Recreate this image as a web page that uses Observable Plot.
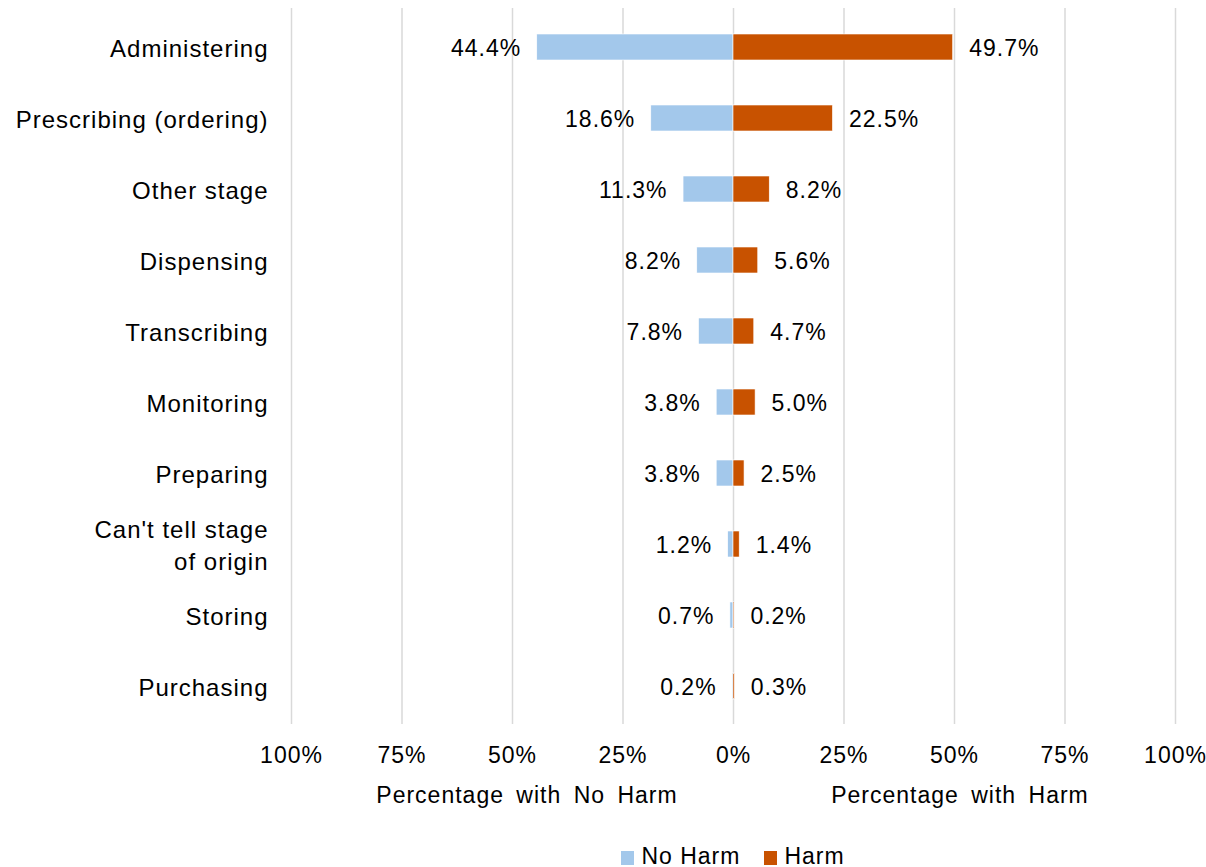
<!DOCTYPE html>
<html>
<head>
<meta charset="utf-8">
<script src="https://cdn.jsdelivr.net/npm/d3@7"></script>
<script src="https://cdn.jsdelivr.net/npm/@observablehq/plot@0.6"></script>
<style>
  html, body { margin: 0; padding: 0; background: #fff; overflow: hidden; }
  body { font-family: "Liberation Sans", Arial, sans-serif; color: #000; }
  #wrap { position: relative; width: 1206px; height: 867px; }
  .atitle { position: absolute; font-size: 23px; letter-spacing: 1px; word-spacing: 5px; white-space: nowrap; transform: translateX(-50%); top: 782px; }
  #legend { position: absolute; left: 291px; width: 884px; top: 843px; display: flex; justify-content: center; font-size: 23px; letter-spacing: 1px; }
  .item { display: flex; align-items: center; margin: 0 12px; }
  .sw { width: 13px; height: 14px; margin-right: 7px; margin-top: 3px; }
</style>
</head>
<body>
<div id="wrap"></div>
<script>
const categories = ["Administering", "Prescribing (ordering)", "Other stage", "Dispensing", "Transcribing", "Monitoring", "Preparing", "Can't tell stage\nof origin", "Storing", "Purchasing"];
const noHarm = [44.4, 18.6, 11.3, 8.2, 7.8, 3.8, 3.8, 1.2, 0.7, 0.2];
const harm = [49.7, 22.5, 8.2, 5.6, 4.7, 5.0, 2.5, 1.4, 0.2, 0.3];
const xTicks = [-100, -75, -50, -25, 0, 25, 50, 75, 100];
const seriesNames = ["No Harm", "Harm"];
const seriesColors = ["#A3C8EB", "#C85200"];
const axisTitles = ["Percentage with No Harm", "Percentage with Harm"];

const left = categories.map((c, i) => ({cat: c, v: noHarm[i]}));
const right = categories.map((c, i) => ({cat: c, v: harm[i]}));
const fmt = v => v.toFixed(1) + "%";

const chart = Plot.plot({
  width: 1206,
  height: 830,
  marginLeft: 291,
  marginRight: 31,
  marginTop: 8,
  marginBottom: 106,
  style: {fontFamily: "'Liberation Sans', Arial, sans-serif", fontSize: "23px", color: "#000", letterSpacing: "1px"},
  x: {domain: [-100, 100]},
  y: {domain: categories, paddingInner: 0.64, paddingOuter: 0.32},
  marks: [
    Plot.gridX(xTicks, {stroke: "#d9d9d9", strokeOpacity: 1, strokeWidth: 1.5}),
    Plot.barX(left, {y: "cat", x: d => -d.v, fill: seriesColors[0], stroke: "#fff", strokeWidth: 0.6}),
    Plot.barX(right, {y: "cat", x: "v", fill: seriesColors[1], stroke: "#fff", strokeWidth: 0.6}),
    Plot.text(left, {y: "cat", x: d => -d.v, text: d => fmt(d.v), textAnchor: "end", dx: -16, dy: 1, fill: "#000"}),
    Plot.text(right, {y: "cat", x: "v", text: d => fmt(d.v), textAnchor: "start", dx: 16, dy: 1, fill: "#000"}),
    Plot.axisX({ticks: xTicks, tickSize: 0, tickPadding: 22, tickFormat: d => Math.abs(d) + "%", label: null, fill: "#000"}),
    Plot.axisY({tickSize: 0, tickPadding: 23, label: null, lineHeight: 1.35, fontSize: 24, dy: -1, fill: "#000"})
  ]
});

const wrap = document.getElementById("wrap");
wrap.appendChild(chart);

const centers = [527, 960];
axisTitles.forEach((t, i) => {
  const d = document.createElement("div");
  d.className = "atitle";
  d.style.left = centers[i] + "px";
  d.textContent = t;
  wrap.appendChild(d);
});

const legend = document.createElement("div");
legend.id = "legend";
seriesNames.forEach((n, i) => {
  const it = document.createElement("div");
  it.className = "item";
  const sw = document.createElement("div");
  sw.className = "sw";
  sw.style.background = seriesColors[i];
  const lab = document.createElement("span");
  lab.textContent = n;
  it.appendChild(sw);
  it.appendChild(lab);
  legend.appendChild(it);
});
wrap.appendChild(legend);
</script>
</body>
</html>
